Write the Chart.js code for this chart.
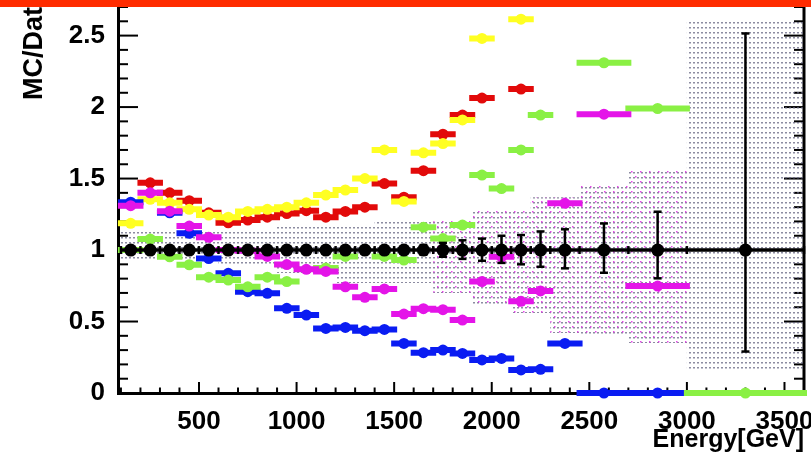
<!DOCTYPE html>
<html>
<head>
<meta charset="utf-8">
<script src="https://cdn.jsdelivr.net/npm/chart.js@4.4.1/dist/chart.umd.min.js"></script>
<style>
  html, body { margin: 0; padding: 0; background: #ffffff; }
  #wrap { width: 811px; height: 452px; position: relative; }
</style>
</head>
<body>
<div id="wrap"><canvas id="c" width="811" height="452"></canvas></div>
<script>
// Energy bins [GeV]: 100 GeV wide up to 2300, then wider bins
const binEdges = [100, 200, 300, 400, 500, 600, 700, 800, 900, 1000, 1100, 1200, 1300,
  1400, 1500, 1600, 1700, 1800, 1900, 2000, 2100, 2200, 2300, 2450, 2700, 3000, 3600];

// Data reference (ratio = 1) with its statistical errors
const dataRatio = [1, 1, 1, 1, 1, 1, 1, 1, 1, 1, 1, 1, 1, 1, 1, 1, 1, 1, 1, 1, 1, 1, 1, 1, 1, 1];
const dataErrUp = [0.01, 0.01, 0.01, 0.01, 0.01, 0.012, 0.012, 0.013, 0.014, 0.015, 0.016, 0.017, 0.018,
  0.02, 0.025, 0.035, 0.05, 0.068, 0.08, 0.1, 0.105, 0.13, 0.145, 0.186, 0.268, 1.515];
const dataErrDown = [0.01, 0.01, 0.01, 0.01, 0.01, 0.012, 0.012, 0.013, 0.014, 0.015, 0.016, 0.017, 0.018,
  0.02, 0.025, 0.033, 0.047, 0.062, 0.075, 0.09, 0.1, 0.117, 0.128, 0.159, 0.198, 0.71];

// MC / Data ratios for the five generators
const mcRed = [null, 1.47, 1.40, 1.345, 1.26, 1.19, 1.21, 1.23, 1.255, 1.275, 1.23, 1.27, 1.30,
  1.465, 1.37, 1.555, 1.81, 1.944, 2.063, null, 2.126, null, null, null, null, null];
const mcYellow = [1.187, 1.355, 1.33, 1.285, 1.245, 1.23, 1.27, 1.285, 1.30, 1.33, 1.385, 1.42, 1.50,
  1.70, 1.34, 1.68, 1.745, 1.91, 2.48, null, 2.615, null, null, null, null, null];
const mcBlue = [1.335, null, 1.26, 1.117, 0.94, 0.837, 0.709, 0.697, 0.592, 0.545, 0.452, 0.459, 0.436,
  0.445, 0.347, 0.282, 0.30, 0.277, 0.231, 0.242, 0.161, 0.166, 0.347, 0.0, 0.0, null];
const mcGreen = [1.0, 1.077, 0.953, 0.897, 0.81, 0.79, 0.743, 0.81, 0.78, null, 0.874, 0.955, null,
  0.955, 0.93, 1.16, 1.08, 1.175, 1.524, 1.43, 1.70, 1.944, null, 2.31, 1.99, 0.0];
const mcMagenta = [1.31, 1.40, 1.272, 1.168, 1.089, 1.0, 0.995, 0.955, 0.898, 0.865, 0.85, 0.743, 0.669,
  0.728, 0.552, 0.59, 0.583, 0.51, 0.78, 0.953, 0.641, 0.714, 1.327, 1.95, 0.748, null];

// Systematic uncertainty bands
const sysGrayHi = [1.14, 1.14, 1.14, 1.14, 1.14, 1.14, 1.14, 1.14, 1.175, 1.175, 1.175, 1.175, 1.175,
  1.21, 1.21, 1.21, 1.21, 1.21, 1.28, 1.28, 1.28, 1.37, 1.37, 1.455, 1.56, 2.6];
const sysGrayLo = [0.92, 0.92, 0.92, 0.92, 0.92, 0.895, 0.895, 0.895, 0.84, 0.84, 0.84, 0.77, 0.77,
  0.77, 0.77, 0.77, 0.70, 0.70, 0.62, 0.62, 0.56, 0.56, 0.42, 0.40, 0.35, 0.16];
const sysPinkHi = [null, null, null, null, null, null, null, null, null, null, null, null, null,
  null, null, null, 1.21, 1.21, 1.28, 1.28, 1.28, 1.37, 1.37, 1.455, 1.56, null];
const sysPinkLo = [null, null, null, null, null, null, null, null, null, null, null, null, null,
  null, null, null, 0.70, 0.70, 0.62, 0.62, 0.56, 0.56, 0.42, 0.40, 0.35, null];

// Axis ticks
const xTicks = [500, 1000, 1500, 2000, 2500, 3000, 3500];
const yTicks = [0, 0.5, 1, 1.5, 2, 2.5];

const FONT = '"Liberation Sans", Arial, Helvetica, sans-serif';

// Horizontal bin bars with a marker at the bin centre; null values break the line
function binSeries(values) {
  const pts = [];
  values.forEach((v, i) => {
    if (v === null) return;
    const lo = binEdges[i], hi = binEdges[i + 1];
    pts.push({ x: lo, y: v }, { x: (lo + hi) / 2, y: v, mark: true }, { x: hi, y: v }, { x: hi, y: null });
  });
  return pts;
}

// Step outline of a band edge
function bandEdge(values) {
  const pts = [];
  values.forEach((v, i) => {
    if (v === null) return;
    pts.push({ x: binEdges[i], y: v }, { x: binEdges[i + 1], y: v });
  });
  return pts;
}

function dotPattern(w, h, dots, color) {
  const c = document.createElement('canvas');
  c.width = w; c.height = h;
  const g = c.getContext('2d');
  g.fillStyle = color;
  dots.forEach(d => g.fillRect(d[0], d[1], d[2], d[3]));
  return g.createPattern(c, 'repeat');
}

const grayDots = dotPattern(4, 5, [[1, 2, 2, 1.5]], 'rgba(95,95,125,0.72)');
const pinkDots = dotPattern(9, 10, [[1, 1, 1.5, 1.5], [5, 6, 1.5, 1.5]], 'rgba(228,40,232,0.85)');

function mcDataset(values, color, order) {
  return {
    type: 'line',
    data: binSeries(values),
    borderColor: color,
    backgroundColor: color,
    borderWidth: 6,
    borderCapStyle: 'square',
    pointRadius: c => (c.raw && c.raw.mark ? 5.5 : 0),
    pointHoverRadius: c => (c.raw && c.raw.mark ? 5.5 : 0),
    pointBackgroundColor: color,
    pointBorderWidth: 0,
    fill: false,
    clip: false,
    order: order
  };
}

const datasets = [
  { // gray band, upper edge (filled down to next dataset)
    type: 'line', data: bandEdge(sysGrayHi), borderWidth: 0, pointRadius: 0,
    backgroundColor: grayDots, fill: '+1', order: 20
  },
  { type: 'line', data: bandEdge(sysGrayLo), borderWidth: 0, pointRadius: 0, fill: false, order: 21 },
  {
    type: 'line', data: bandEdge(sysPinkHi), borderWidth: 0, pointRadius: 0,
    backgroundColor: pinkDots, fill: '+1', order: 18
  },
  { type: 'line', data: bandEdge(sysPinkLo), borderWidth: 0, pointRadius: 0, fill: false, order: 19 },
  mcDataset(mcRed, '#e20a0a', 9),
  mcDataset(mcYellow, '#ffff22', 8),
  mcDataset(mcBlue, '#0a1cf2', 7),
  mcDataset(mcGreen, '#8af044', 6),
  mcDataset(mcMagenta, '#e414e8', 5),
  {
    type: 'line',
    data: binSeries(dataRatio).filter(p => p.y !== null),
    borderColor: '#000', backgroundColor: '#000', borderWidth: 3.5,
    pointRadius: c => (c.raw && c.raw.mark ? 6.5 : 0),
    pointHoverRadius: c => (c.raw && c.raw.mark ? 6.5 : 0),
    pointBackgroundColor: '#000', pointBorderWidth: 0, fill: false, clip: false, order: 1
  }
];

function seg(ctx, x1, y1, x2, y2) {
  ctx.beginPath(); ctx.moveTo(x1, y1); ctx.lineTo(x2, y2); ctx.stroke();
}

// Inward ticks, right frame, data error bars, y title and top strip
const rootStyle = {
  id: 'rootStyle',
  beforeDatasetsDraw(chart) {
    const { ctx, chartArea: a, scales: { x, y } } = chart;
    ctx.save();
    ctx.strokeStyle = '#000';
    ctx.lineWidth = 3;
    seg(ctx, a.right, a.top, a.right, a.bottom + 1.5);
    ctx.lineWidth = 2;
    for (let v = 100; v <= 3600; v += 100) {
      const px = x.getPixelForValue(v);
      const len = v % 500 === 0 ? 11 : 5.5;
      seg(ctx, px, a.bottom, px, a.bottom - len);
    }
    for (let k = 0; k <= 27; k++) {
      const py = y.getPixelForValue(k / 10);
      const len = k % 5 === 0 ? 20 : 10;
      seg(ctx, a.left, py, a.left + len, py);
      seg(ctx, a.right, py, a.right - len, py);
    }
    ctx.restore();
  },
  afterDatasetsDraw(chart) {
    const { ctx, scales: { x, y } } = chart;
    ctx.save();
    ctx.strokeStyle = '#000';
    ctx.lineWidth = 2.5;
    dataRatio.forEach((v, i) => {
      const cx = x.getPixelForValue((binEdges[i] + binEdges[i + 1]) / 2);
      const yt = y.getPixelForValue(v + dataErrUp[i]);
      const yb = y.getPixelForValue(v - dataErrDown[i]);
      seg(ctx, cx, yt, cx, yb);
      seg(ctx, cx - 4, yt, cx + 4, yt);
      seg(ctx, cx - 4, yb, cx + 4, yb);
    });
    const y1 = y.getPixelForValue(1);
    binEdges.forEach(e => {
      const ex = x.getPixelForValue(e);
      seg(ctx, ex, y1 - 4, ex, y1 + 4);
    });
    ctx.restore();
  },
  afterDraw(chart) {
    const { ctx } = chart;
    ctx.save();
    ctx.fillStyle = '#000';
    ctx.font = 'bold 27px ' + FONT;
    ctx.translate(42, 100);
    ctx.rotate(-Math.PI / 2);
    ctx.textAlign = 'left';
    ctx.textBaseline = 'alphabetic';
    ctx.fillText('MC/Data', 0, 0);
    ctx.restore();
    ctx.save();
    ctx.fillStyle = '#ff2c00';
    ctx.fillRect(0, 0, chart.width, 7);
    ctx.restore();
  }
};

new Chart(document.getElementById('c'), {
  type: 'line',
  data: { datasets },
  options: {
    responsive: false,
    animation: false,
    events: [],
    layout: { padding: { left: 0, right: 7, top: 7, bottom: 0 } },
    plugins: { legend: { display: false }, tooltip: { enabled: false } },
    scales: {
      x: {
        type: 'linear', min: 85, max: 3600,
        grid: { display: false },
        border: { display: true, color: '#000', width: 3 },
        ticks: { color: '#000', font: { family: FONT, size: 26, weight: 'bold' }, padding: 5,
          callback: v => String(v) },
        afterBuildTicks: s => { s.ticks = xTicks.map(v => ({ value: v })); },
        afterFit: s => { s.height = 59; s.paddingLeft = 0; s.paddingRight = 0; },
        title: { display: true, text: 'Energy[GeV]', align: 'end', color: '#000',
          font: { family: FONT, size: 25, weight: 'bold' }, padding: { top: 0, bottom: -3 } }
      },
      y: {
        type: 'linear', min: 0, max: 2.7,
        grid: { display: false },
        border: { display: true, color: '#000', width: 3 },
        ticks: { color: '#000', font: { family: FONT, size: 26, weight: 'bold' }, padding: 5,
          callback: v => String(v) },
        afterBuildTicks: s => { s.ticks = yTicks.map(v => ({ value: v })); },
        afterFit: s => { s.width = 118; s.paddingTop = 0; s.paddingBottom = 0; }
      }
    }
  },
  plugins: [rootStyle]
});
</script>
</body>
</html>
